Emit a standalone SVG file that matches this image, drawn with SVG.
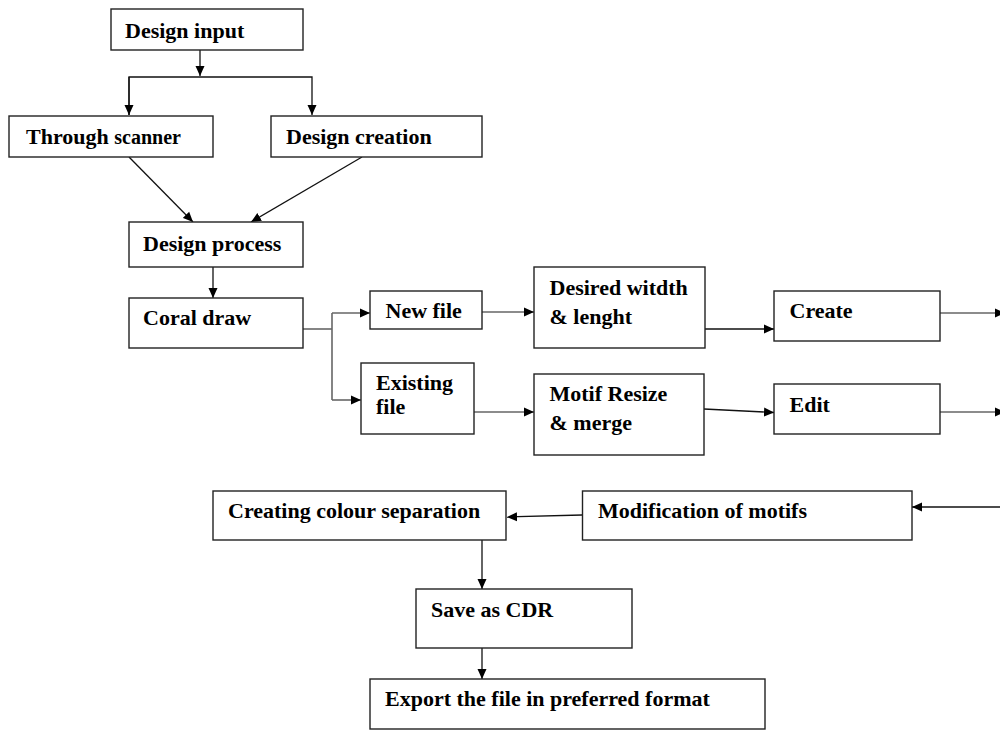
<svg xmlns="http://www.w3.org/2000/svg" width="1000" height="730" viewBox="0 0 1000 730">
<defs>
<style>
.box{fill:#fff;stroke:#222;stroke-width:1.4}
.t{font-weight:bold;font-size:22px;fill:#000}
.s{font-size:20px}
.c{fill:none;stroke:#111;stroke-width:1.3}
.g{fill:none;stroke:#666;stroke-width:1.6}
</style>
<marker id="a" markerUnits="userSpaceOnUse" markerWidth="10" markerHeight="10" refX="10" refY="5" orient="auto" viewBox="0 0 10 10">
<path d="M0,0.5 L10,5 L0,9.5 z" fill="#000"/>
</marker>
</defs>
<rect width="1000" height="730" fill="#fff"/>
<g id="connectors">
<path class="c" d="M200,50 V76" marker-end="url(#a)"/>
<path class="c" d="M129,115 V77 H312 V115" marker-end="url(#a)"/>
<path class="c" d="M129,77 V115" marker-end="url(#a)"/>
<path class="c" d="M129,157 L193,222" marker-end="url(#a)"/>
<path class="c" d="M362,157 L251,222" marker-end="url(#a)"/>
<path class="c" d="M213,267 V298" marker-end="url(#a)"/>
<path class="g" d="M303,329 H332"/>
<path class="g" d="M332,313 V400"/>
<path class="g" d="M332,313 H370" marker-end="url(#a)"/>
<path class="g" d="M332,400 H361" marker-end="url(#a)"/>
<path class="g" d="M482,312 H534" marker-end="url(#a)"/>
<path class="c" d="M705,329 H774" marker-end="url(#a)"/>
<path class="g" d="M940,313 H1005" marker-end="url(#a)"/>
<path class="g" d="M474,412 H534" marker-end="url(#a)"/>
<path class="c" d="M704,409 L774,412.5" marker-end="url(#a)"/>
<path class="g" d="M940,412 H1005" marker-end="url(#a)"/>
<path class="c" d="M1002,507 H912" marker-end="url(#a)"/>
<path class="c" d="M582,515 L507,517" marker-end="url(#a)"/>
<path class="c" d="M482,540 V589" marker-end="url(#a)"/>
<path class="c" d="M482,648 V679" marker-end="url(#a)"/>
</g>
<g font-family="'Liberation Serif', 'DejaVu Serif', serif">
<g id="design-input"><rect class="box" x="111" y="9" width="192" height="41"/><text class="t" x="125" y="37.5">Design input</text></g>
<g id="through-scanner"><rect class="box" x="9" y="116" width="204" height="41"/><text class="t" x="26" y="143.5">Through <tspan class="s">scanner</tspan></text></g>
<g id="design-creation"><rect class="box" x="271" y="116" width="211" height="41"/><text class="t" x="286" y="143.5">Design creation</text></g>
<g id="design-process"><rect class="box" x="129" y="222" width="174" height="45"/><text class="t" x="143" y="251">Design process</text></g>
<g id="coral-draw"><rect class="box" x="129" y="298" width="174" height="50"/><text class="t" x="143" y="325">Coral draw</text></g>
<g id="new-file"><rect class="box" x="370" y="291" width="112" height="38"/><text class="t" x="385.5" y="318">New file</text></g>
<g id="desired"><rect class="box" x="534" y="267" width="171" height="81"/><text class="t" x="549.5" y="295">Desired witdth</text><text class="t" x="549.5" y="324">&amp; lenght</text></g>
<g id="create"><rect class="box" x="774" y="291" width="166" height="50"/><text class="t" x="789.5" y="318">Create</text></g>
<g id="existing-file"><rect class="box" x="361" y="363" width="113" height="71"/><text class="t" x="376" y="390">Existing</text><text class="t" x="376" y="414">file</text></g>
<g id="motif"><rect class="box" x="534" y="374" width="170" height="81"/><text class="t" x="549.5" y="401">Motif Resize</text><text class="t" x="549.5" y="430">&amp; merge</text></g>
<g id="edit"><rect class="box" x="774" y="384" width="166" height="50"/><text class="t" x="789.5" y="411.5">Edit</text></g>
<g id="modification"><rect class="box" x="582.5" y="491" width="329.5" height="49"/><text class="t" x="598" y="518">Modification of motifs</text></g>
<g id="colour-separation"><rect class="box" x="213" y="491" width="293" height="49"/><text class="t" x="228" y="518">Creating colour separation</text></g>
<g id="save-cdr"><rect class="box" x="416" y="589" width="216" height="59"/><text class="t" x="431" y="617">Save as CDR</text></g>
<g id="export"><rect class="box" x="370" y="679" width="395" height="50"/><text class="t" x="385" y="706">Export the file in preferred format</text></g>
</g>
</svg>
